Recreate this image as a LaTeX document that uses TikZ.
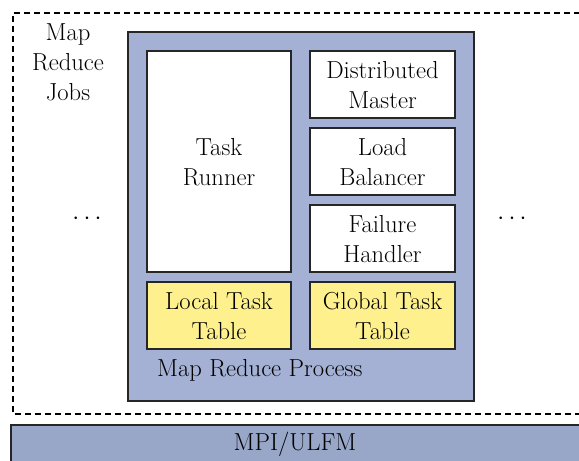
\documentclass[tikz,border=0pt]{standalone}
\usepackage{tikz}
\definecolor{procblue}{RGB}{164,177,212}
\definecolor{mpiblue}{RGB}{152,166,200}
\definecolor{tableyellow}{RGB}{253,240,141}
\tikzset{
  px/.style={x=1pt,y=-1pt},
  boxline/.style={draw=black!85,line width=1.3pt},
  module/.style={boxline,fill=white,align=center,inner sep=0pt},
  tablebox/.style={boxline,fill=tableyellow,align=center,inner sep=0pt},
  bigtext/.style={font=\fontsize{24.6}{30}\selectfont},
}
\begin{document}
\begin{tikzpicture}[px,bigtext]
\useasboundingbox (0,0) rectangle (579,461);
\clip (0,0) rectangle (579,461);
% jobs region
\draw[line width=1.9pt,dash pattern=on 6pt off 4pt] (590,13) -- (13,13) -- (13,414) -- (590,414);
\node[align=center] (jobs) at (68,62) {Map\\Reduce\\Jobs};
\node (dotsl) at (87,219) {$\cdots$};
\node (dotsr) at (512,219) {$\cdots$};
% process box
\path[boxline,fill=procblue] (128,32) rectangle (474,401);
\node (proc) [anchor=base west,inner sep=0pt] at (157,376) {Map Reduce Process};
% modules
\path[module] (147,51) rectangle (291,272);
\node[align=center] (runner) at (219,162) {Task\\Runner};
\path[module] (310,51) rectangle (455,118);
\node[align=center] (master) at (382.5,85) {Distributed\\Master};
\path[module] (310,128) rectangle (455,195);
\node[align=center] (balancer) at (382.5,162) {Load\\Balancer};
\path[module] (310,205) rectangle (455,272);
\node[align=center] (failure) at (382.5,239) {Failure\\Handler};
\path[tablebox] (147,282) rectangle (291,349);
\node[align=center] (local) at (219,316) {Local Task\\Table};
\path[tablebox] (310,282) rectangle (455,349);
\node[align=center] (global) at (382.5,316) {Global Task\\Table};
% communication layer
\path[boxline,fill=mpiblue] (11,425) rectangle (600,480);
\node (mpi) at (295,444) {MPI/ULFM};
\end{tikzpicture}
\end{document}
